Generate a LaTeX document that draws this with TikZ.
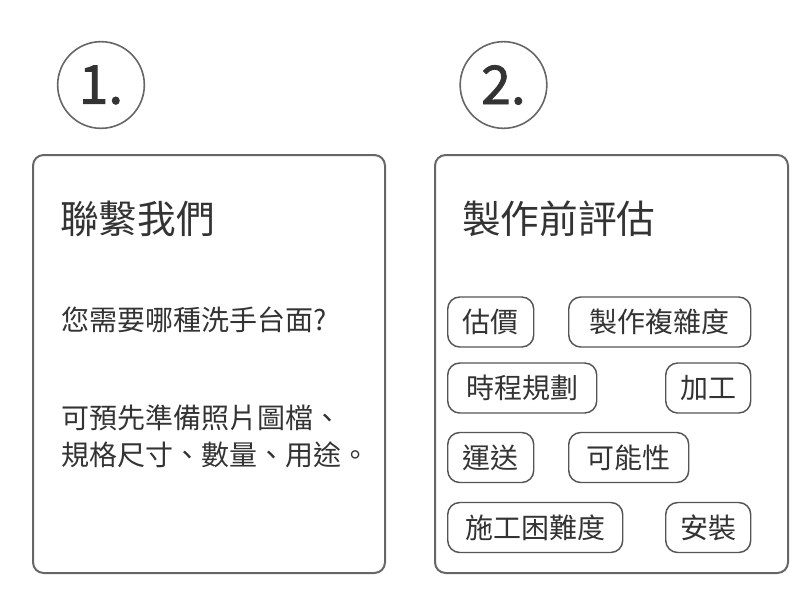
\documentclass[tikz,border=0pt]{standalone}
\usepackage{fontspec}
\setmainfont{Noto Sans CJK TC}
\newfontfamily\numfont[FakeBold=1.6]{Noto Sans CJK TC}
\definecolor{txt}{HTML}{333333}
\definecolor{frame}{HTML}{666666}
\definecolor{tagline}{HTML}{555555}
\tikzset{
  numcircle/.style={circle, draw=frame, line width=1.2pt, minimum size=65pt, inner sep=0pt, text=txt, font=\numfont\fontsize{40}{40}\selectfont},
  panel/.style={draw=frame, line width=1.5pt, rounded corners=8pt},
  title/.style={anchor=west, inner sep=0pt, text=txt, font=\fontsize{29}{29}\selectfont},
  body/.style={anchor=west, inner sep=0pt, text=txt, font=\fontsize{21}{21}\selectfont},
  tag/.style={draw=tagline, line width=1.1pt, rounded corners=9pt, anchor=west, inner sep=0pt, minimum height=37.5pt, text=txt, font=\fontsize{21}{21}\selectfont},
}
\begin{document}
\begin{tikzpicture}[x=0.75pt,y=-0.75pt]
\useasboundingbox (0,0) rectangle (800,600);
% step circles
\node[numcircle] (c1) at (101,85) {1.};
\node[numcircle] (c2) at (503.5,85) {2.};
% panels
\draw[panel] (33,155) rectangle (385,573);
\draw[panel] (435,155) rectangle (788,573);
% left panel texts
\node[title] (t1) at (60,219) {聯繫我們};
\node[body] (b1) at (61,320) {您需要哪種洗手台面?};
\node[body] (b2) at (61,418) {可預先準備照片圖檔、};
\node[body] (b3) at (61,455) {規格尺寸、數量、用途。};
% right panel
\node[title] (t2) at (462,219) {製作前評估};
\node[tag, minimum width=64.5pt] (g1) at (447,322) {估價};
\node[tag, minimum width=136.5pt] (g2) at (568,322) {製作複雜度};
\node[tag, minimum width=111.75pt] (g3) at (447,388) {時程規劃};
\node[tag, minimum width=63.75pt] (g4) at (665,388) {加工};
\node[tag, minimum width=64.5pt] (g5) at (447,457.5) {運送};
\node[tag, minimum width=90pt] (g6) at (568,457.5) {可能性};
\node[tag, minimum width=131.25pt] (g7) at (447,527.5) {施工困難度};
\node[tag, minimum width=63.75pt] (g8) at (665,527.5) {安裝};
\end{tikzpicture}
\end{document}
